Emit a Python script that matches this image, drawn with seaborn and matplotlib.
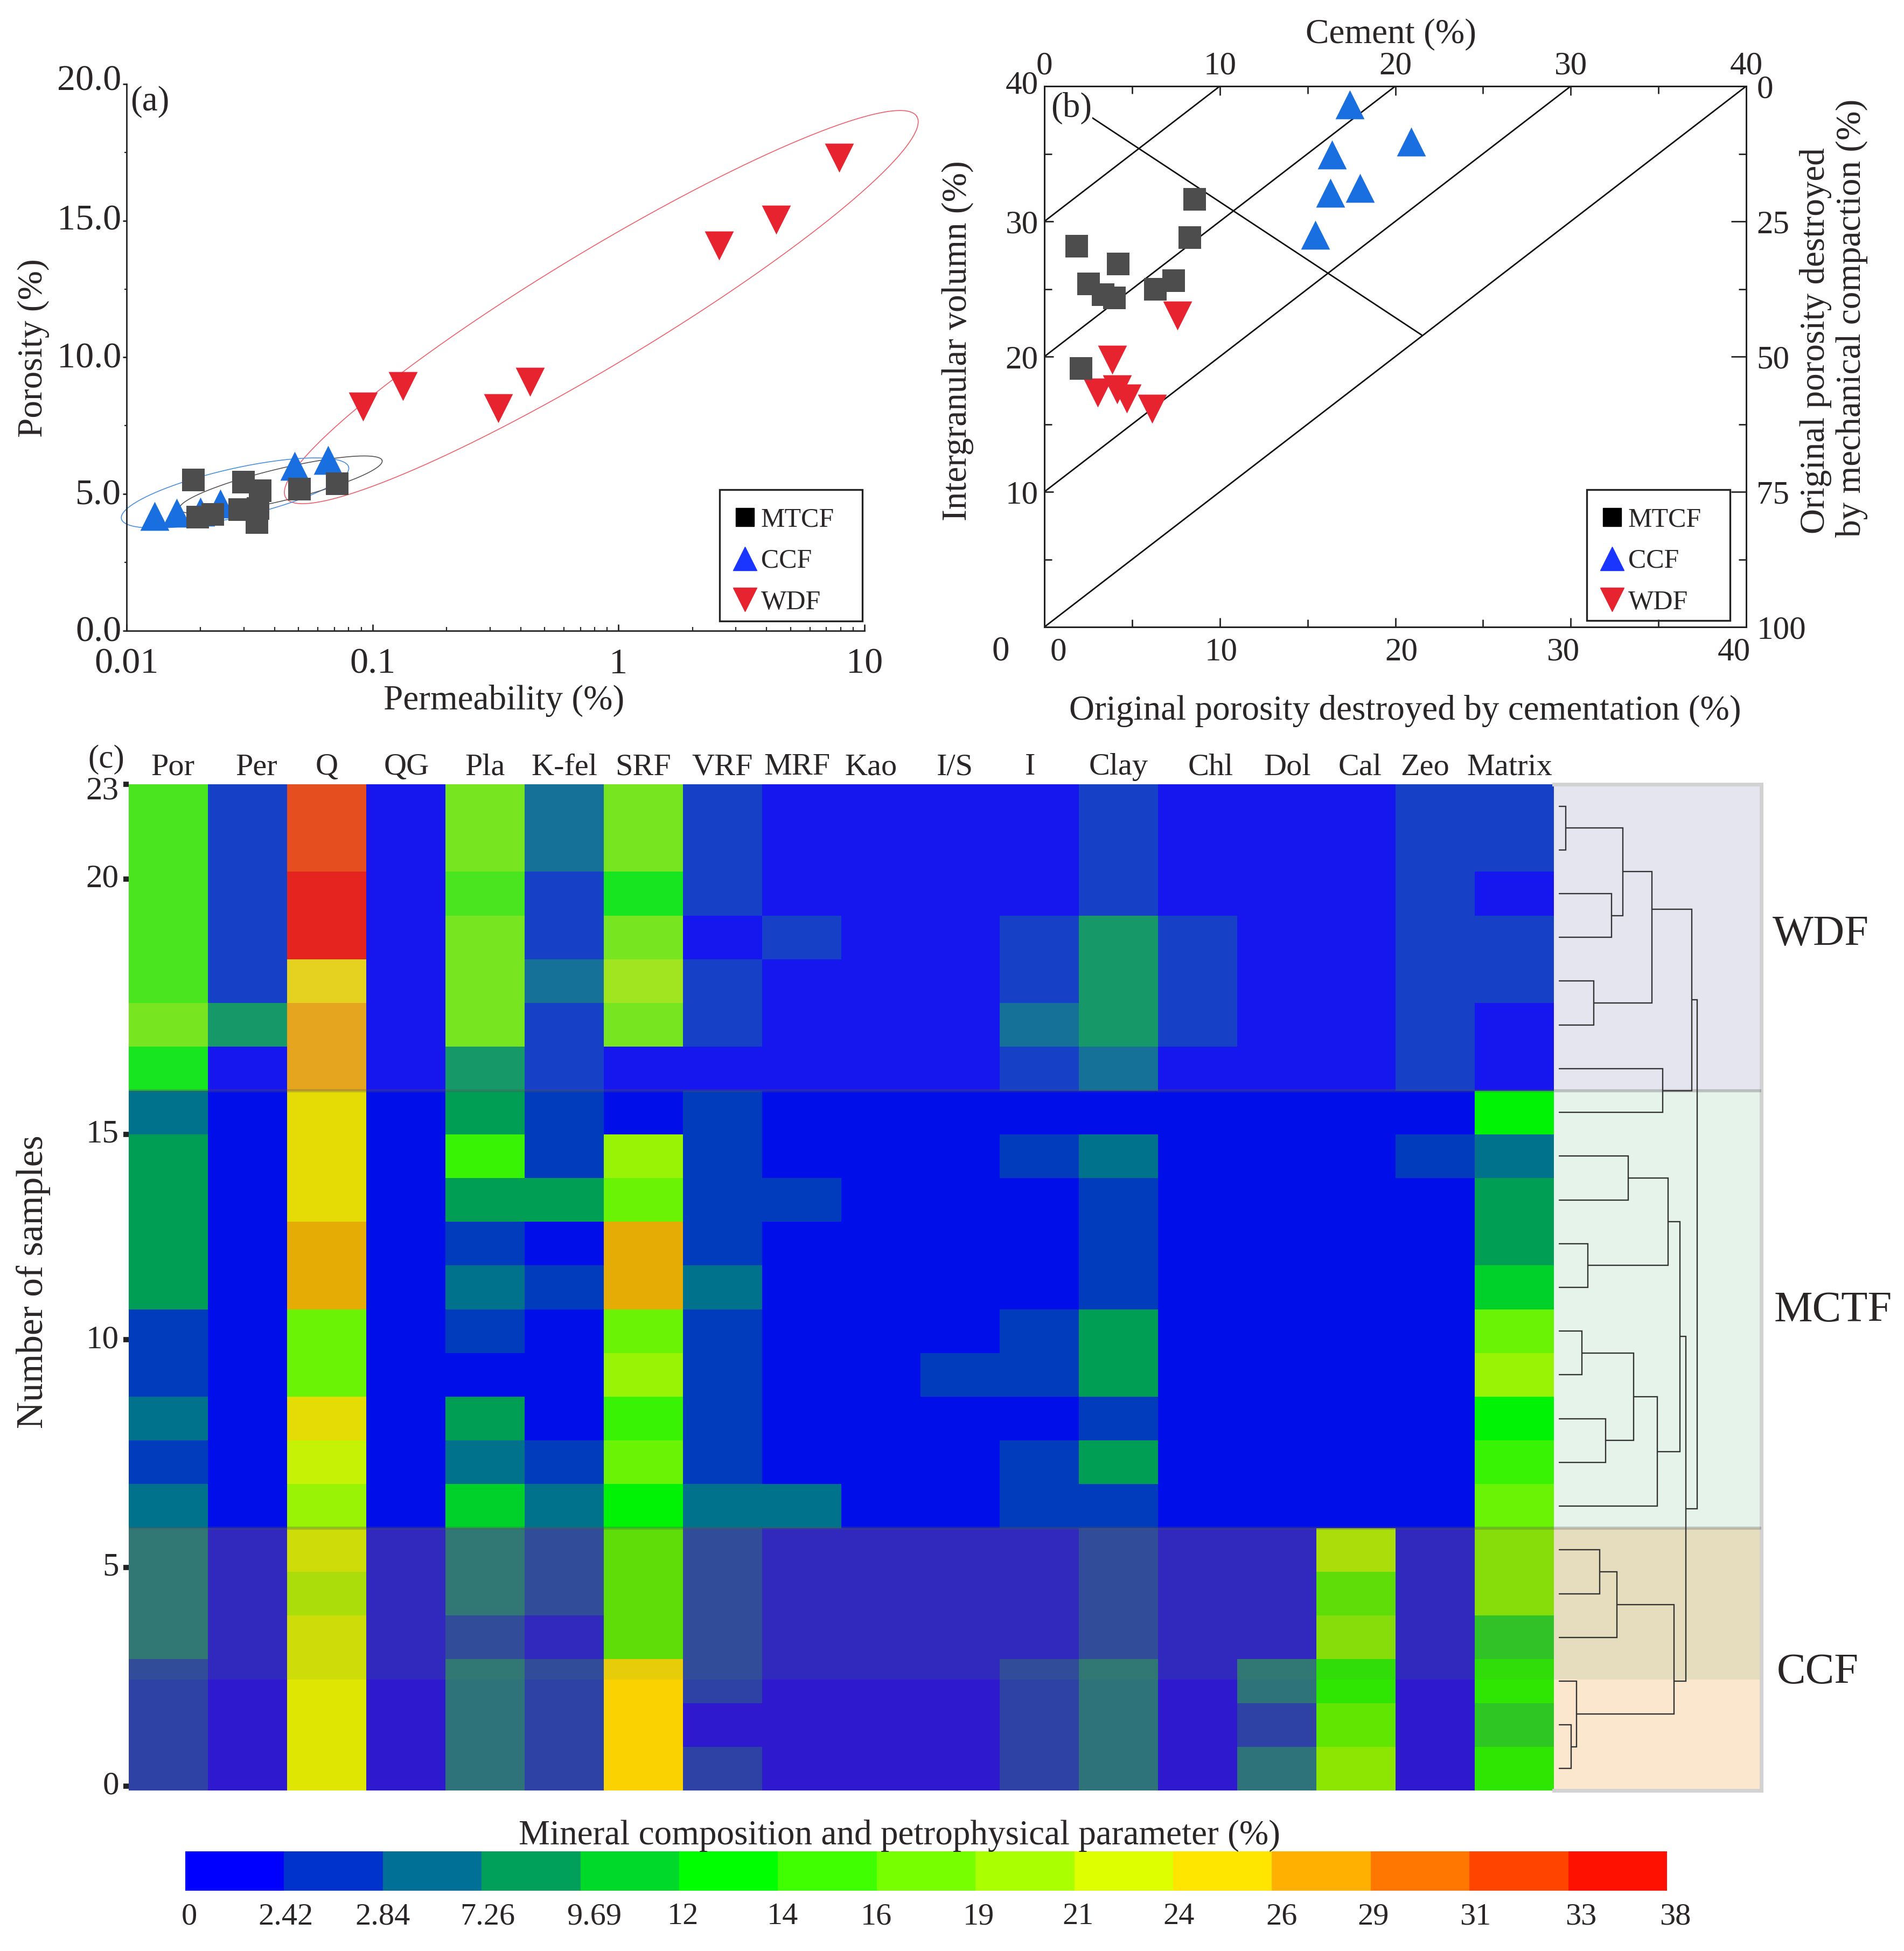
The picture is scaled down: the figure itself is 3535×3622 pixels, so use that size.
import matplotlib
matplotlib.use("Agg")
import matplotlib.pyplot as plt
import numpy as np
import pandas as pd
import seaborn as sns
from matplotlib.colors import BoundaryNorm, ListedColormap
from matplotlib.lines import Line2D
from matplotlib.patches import Rectangle
from matplotlib.ticker import FixedLocator, NullFormatter
from matplotlib.transforms import ScaledTranslation

W, H = 3535, 3622
DPI = 100
FS = 44
LABEL_FS = 47
INK = "#2a2626"

# panel (a), permeability vs porosity
mtcf_perm = [0.0187, 0.0298, 0.0349, 0.0505, 0.0718, 0.0195, 0.0224, 0.0289, 0.0343, 0.0339]
mtcf_por = [5.52, 5.44, 5.13, 5.18, 5.38, 4.15, 4.26, 4.43, 4.47, 3.97]
ccf_perm = [0.013, 0.016, 0.020, 0.0241, 0.0482, 0.0659]
ccf_por = [4.19, 4.32, 4.36, 4.65, 6.02, 6.24]
wdf_perm = [0.0916, 0.133, 0.325, 0.4375, 2.56, 4.37, 7.89]
wdf_por = [8.2, 8.94, 8.14, 9.11, 14.09, 15.04, 17.3]

# ellipses: centre (log10 perm, por), half major vector, half minor vector
ellipse_red = [(-0.07, 11.84), (1.283, 6.97), (0.118, -1.77)]
ellipse_blue = [(-1.559, 5.04), (0.462, 0.946), (0.022, -0.867)]
ellipse_black = [(-1.373, 5.34), (0.412, 0.887), (0.015, -0.571)]

# panel (b), cement vs intergranular volume
mtcf_cem = [8.55, 8.30, 1.83, 4.2, 2.52, 3.34, 3.99, 6.33, 7.37, 2.08]
mtcf_igv = [31.64, 28.81, 28.15, 26.84, 25.39, 24.59, 24.35, 24.97, 25.6, 19.14]
ccf_cem = [17.4, 20.9, 16.4, 16.3, 18.0, 15.45]
ccf_igv = [38.65, 35.89, 34.96, 32.12, 32.47, 29.02]
wdf_cem = [7.58, 3.88, 3.05, 4.13, 4.71, 6.15]
wdf_igv = [23.04, 19.76, 17.34, 17.58, 16.89, 16.13]
diagonal_offsets = [0, 10, 20, 30]
anti_cem = [2.45, 21.5]
anti_igv = [37.9, 21.6]

# panel (c), top row first
por = [15, 15, 15, 15, 15, 17.5, 13, 5, 8.5, 8.5, 8.5, 8.5, 2.6, 2.6, 5, 2.6, 5, 5, 5, 5, 2.6, 2.6, 2.6]
per = [2.6, 2.6, 2.6, 2.6, 2.6, 8.5, 1.2, 1.2, 1.2, 1.2, 1.2, 1.2, 1.2, 1.2, 1.2, 1.2, 1.2, 1.2, 1.2, 1.2, 1.2, 1.2, 1.2]
q = [32, 32, 35, 35, 25, 27.5, 27.5, 25, 25, 25, 27.5, 27.5, 17.5, 17.5, 25, 22.5, 20, 22.5, 20, 22.5, 22.5, 22.5, 22.5]
qg = [1.2, 1.2, 1.2, 1.2, 1.2, 1.2, 1.2, 1.2, 1.2, 1.2, 1.2, 1.2, 1.2, 1.2, 1.2, 1.2, 1.2, 1.2, 1.2, 1.2, 1.2, 1.2, 1.2]
pla = [17.5, 17.5, 15, 17.5, 17.5, 17.5, 8.5, 8.5, 15, 8.5, 2.6, 5, 2.6, 1.2, 8.5, 5, 11, 5, 5, 2.6, 5, 5, 5]
kfel = [5, 5, 2.6, 2.6, 5, 2.6, 2.6, 2.6, 2.6, 8.5, 1.2, 2.6, 1.2, 1.2, 1.2, 2.6, 5, 2.6, 2.6, 1.2, 2.6, 2.6, 2.6]
srf = [17.5, 17.5, 13, 17.5, 20, 17.5, 1.2, 1.2, 20, 17.5, 27.5, 27.5, 17.5, 20, 15, 17.5, 13, 15, 15, 15, 25, 25, 25]
vrf = [2.6, 2.6, 2.6, 1.2, 2.6, 2.6, 1.2, 2.6, 2.6, 2.6, 2.6, 5, 2.6, 2.6, 2.6, 2.6, 5, 2.6, 2.6, 2.6, 2.6, 1.2, 2.6]
mrf = [1.2, 1.2, 1.2, 2.6, 1.2, 1.2, 1.2, 1.2, 1.2, 2.6, 1.2, 1.2, 1.2, 1.2, 1.2, 1.2, 5, 1.2, 1.2, 1.2, 1.2, 1.2, 1.2]
kao = [1.2, 1.2, 1.2, 1.2, 1.2, 1.2, 1.2, 1.2, 1.2, 1.2, 1.2, 1.2, 1.2, 1.2, 1.2, 1.2, 1.2, 1.2, 1.2, 1.2, 1.2, 1.2, 1.2]
i_s = [1.2, 1.2, 1.2, 1.2, 1.2, 1.2, 1.2, 1.2, 1.2, 1.2, 1.2, 1.2, 1.2, 2.6, 1.2, 1.2, 1.2, 1.2, 1.2, 1.2, 1.2, 1.2, 1.2]
illite = [1.2, 1.2, 1.2, 2.6, 2.6, 5, 2.6, 1.2, 2.6, 1.2, 1.2, 1.2, 2.6, 2.6, 1.2, 2.6, 2.6, 1.2, 1.2, 1.2, 2.6, 2.6, 2.6]
clay = [2.6, 2.6, 2.6, 8.5, 8.5, 8.5, 5, 1.2, 5, 2.6, 2.6, 2.6, 8.5, 8.5, 2.6, 8.5, 2.6, 2.6, 2.6, 2.6, 5, 5, 5]
chl = [1.2, 1.2, 1.2, 2.6, 2.6, 2.6, 1.2, 1.2, 1.2, 1.2, 1.2, 1.2, 1.2, 1.2, 1.2, 1.2, 1.2, 1.2, 1.2, 1.2, 1.2, 1.2, 1.2]
dol = [1.2, 1.2, 1.2, 1.2, 1.2, 1.2, 1.2, 1.2, 1.2, 1.2, 1.2, 1.2, 1.2, 1.2, 1.2, 1.2, 1.2, 1.2, 1.2, 1.2, 5, 2.6, 5]
cal = [1.2, 1.2, 1.2, 1.2, 1.2, 1.2, 1.2, 1.2, 1.2, 1.2, 1.2, 1.2, 1.2, 1.2, 1.2, 1.2, 1.2, 20, 15, 17.5, 13, 15, 17.5]
zeo = [2.6, 2.6, 2.6, 2.6, 2.6, 2.6, 2.6, 1.2, 2.6, 1.2, 1.2, 1.2, 1.2, 1.2, 1.2, 1.2, 1.2, 1.2, 1.2, 1.2, 1.2, 1.2, 1.2]
matrix = [2.6, 2.6, 1.2, 2.6, 2.6, 1.2, 1.2, 13, 5, 8.5, 8.5, 11, 17.5, 20, 13, 15, 17.5, 17.5, 17.5, 11, 13, 11, 13]

columns = ["Por", "Per", "Q", "QG", "Pla", "K-fel", "SRF", "VRF", "MRF", "Kao", "I/S", "I", "Clay", "Chl", "Dol", "Cal", "Zeo", "Matrix"]
column_shift_px = [8, 17, 0, 1, 0, 0, 0, 0, -9, -18, -10, -17, 0, 24, 20, 8, -19, -9]
sample_ticks = [23, 20, 15, 10, 5, 0]
sample_tick_rows = [0.0, 2.17, 8.0, 12.7, 17.9, 22.9]

bounds = [0, 2.42, 2.84, 7.26, 9.69, 12, 14, 16, 19, 21, 24, 26, 29, 31, 33, 38]
bound_labels = ["0", "2.42", "2.84", "7.26", "9.69", "12", "14", "16", "19", "21", "24", "26", "29", "31", "33", "38"]
bound_shift_px = [7, 3, 0, 11, 26, 7, 9, -1, 6, 7, 11, 18, 5, 11, 24, 15]
bin_colors = ["#0000ff", "#0033cc", "#007096", "#00a05a", "#00d82a", "#00ff00", "#40ff00", "#77ff00",
              "#aaff00", "#ddff00", "#ffe600", "#ffb000", "#ff7700", "#ff4400", "#ff1100"]

# tinted zones over heatmap and dendrogram, in rows from the top
zone_edges = [0, 7, 17, 20.46, 23]
zone_colors = [(122, 122, 170), (0, 140, 50), (172, 141, 34), (235, 128, 10)]
zone_alphas = [0.19, 0.10, 0.29, 0.196]
zone_names = ["WDF", "MCTF", "CCF"]

# dendrogram merges: left, right, distance. ids below 23 are rows
merges = [
    (0, 1, 12), (2, 3, 97), (23, 24, 118), (4, 5, 64), (25, 26, 172), (6, 7, 192), (27, 28, 246),
    (8, 9, 128), (10, 11, 53), (30, 31, 202), (12, 13, 42), (14, 15, 86), (33, 34, 138), (35, 16, 182),
    (32, 36, 224), (17, 18, 75), (38, 19, 107), (21, 22, 22), (20, 40, 32), (39, 41, 213), (37, 42, 235),
    (29, 43, 256),
]
node_shift = {27: -0.64, 42: 0.5}

FACIES = {
    "WDF": dict(marker="v", color="#e6232e", s=1500),
    "CCF": dict(marker="^", color="#1a6fe0", s=1500),
    "MTCF": dict(marker="s", color="#4d4d4d", s=950),
}

sns.set_theme(style="ticks")
plt.rcParams["font.family"] = ["Liberation Serif", "DejaVu Serif"]
plt.rcParams["text.color"] = INK
plt.rcParams["axes.labelcolor"] = INK
plt.rcParams["xtick.color"] = INK
plt.rcParams["ytick.color"] = INK
plt.rcParams["axes.edgecolor"] = "#222222"
plt.rcParams["axes.linewidth"] = 2.0


def px_rect(left, top, right, bottom):
    return [left / W, 1 - bottom / H, (right - left) / W, (bottom - top) / H]


def put(x, y, text, size=LABEL_FS, **kwargs):
    kwargs.setdefault("ha", "center")
    kwargs.setdefault("va", "center")
    return fig.text(x / W, 1 - y / H, text, fontsize=size, **kwargs)


def shift_labels(labels, dx_px=None, dy_px=None):
    labels = list(labels)
    dx_px = dx_px or [0] * len(labels)
    dy_px = dy_px or [0] * len(labels)
    for lab, dx, dy in zip(labels, dx_px, dy_px):
        lab.set_transform(lab.get_transform() + ScaledTranslation(dx / DPI, -dy / DPI, fig.dpi_scale_trans))


def scatter_facies(ax, values):
    for name, (xs, ys) in values.items():
        st = FACIES[name]
        frame = pd.DataFrame({"x": xs, "y": ys})
        sns.scatterplot(data=frame, x="x", y="y", marker=st["marker"], color=st["color"], s=st["s"],
                        linewidth=0, ax=ax, legend=False, clip_on=False, zorder=3)
    ax.set_xlabel("")
    ax.set_ylabel("")


def facies_legend(ax, left, top, right, bottom):
    handles = [
        Line2D([], [], ls="", marker="s", color="#000000", markersize=25),
        Line2D([], [], ls="", marker="^", color="#1a35ff", markersize=31),
        Line2D([], [], ls="", marker="v", color="#e6232e", markersize=31),
    ]
    ax.add_patch(Rectangle((left / W, 1 - bottom / H), (right - left) / W, (bottom - top) / H,
                           transform=fig.transFigure, fill=False, edgecolor="#222222", lw=2.4,
                           clip_on=False, zorder=5))
    ax.legend(handles, ["MTCF", "CCF", "WDF"], loc="upper left",
              bbox_to_anchor=(left / W, 1 - (top + 16) / H), bbox_transform=fig.transFigure,
              fontsize=36, frameon=False, borderpad=0.34, labelspacing=0.6,
              handlelength=1.2, handletextpad=0.0, borderaxespad=0)


fig = plt.figure(figsize=(W / DPI, H / DPI), dpi=DPI, facecolor="white")

# (a)
ax_a = fig.add_axes(px_rect(235, 156, 1605, 1171))
scatter_facies(ax_a, {"WDF": (wdf_perm, wdf_por), "CCF": (ccf_perm, ccf_por), "MTCF": (mtcf_perm, mtcf_por)})
t = np.linspace(0, 2 * np.pi, 300)
for (centre, major, minor), col in zip([ellipse_red, ellipse_blue, ellipse_black], ["#f0606a", "#4a90e0", "#555555"]):
    logx = centre[0] + major[0] * np.cos(t) + minor[0] * np.sin(t)
    ys = centre[1] + major[1] * np.cos(t) + minor[1] * np.sin(t)
    ax_a.plot(10 ** logx, ys, color=col, lw=1.2, clip_on=False, zorder=2)
ax_a.set_xscale("log")
ax_a.set_xlim(0.01, 10)
ax_a.set_ylim(0, 20)
ax_a.set_xticks([0.01, 0.1, 1, 10], ["0.01", "0.1", "1", "10"])
ax_a.xaxis.set_minor_locator(FixedLocator([m * 10.0 ** e for e in (-2, -1, 0) for m in range(2, 10)]))
ax_a.xaxis.set_minor_formatter(NullFormatter())
ax_a.set_yticks([0, 5, 10, 15, 20], ["0.0", "5.0", "10.0", "15.0", "20.0"])
ax_a.set_yticks([2.5, 7.5, 12.5, 17.5], minor=True)
ax_a.tick_params(axis="x", which="major", direction="in", length=9, width=2, labelsize=49, pad=23)
ax_a.tick_params(axis="x", which="minor", direction="in", length=5, width=1.6)
ax_a.tick_params(axis="y", which="major", direction="out", length=5, width=2, labelsize=49, pad=2)
ax_a.tick_params(axis="y", which="minor", direction="out", length=3, width=1.6)
shift_labels(ax_a.get_yticklabels(), dy_px=[-4, -4, -4, -7, -12])
sns.despine(ax=ax_a)
facies_legend(ax_a, 1336, 909, 1601, 1153)
put(278, 189, "(a)")
put(62, 646, "Porosity (%)", rotation=90)
put(936, 1301, "Permeability (%)")

# (b)
ax_b = fig.add_axes(px_rect(1939, 160, 3242, 1164))
for c in diagonal_offsets:
    ax_b.plot([0, 40 - c], [c, 40], color="#111111", lw=2.0, zorder=1)
ax_b.plot(anti_cem, anti_igv, color="#111111", lw=2.0, zorder=1)
scatter_facies(ax_b, {"WDF": (wdf_cem, wdf_igv), "CCF": (ccf_cem, ccf_igv), "MTCF": (mtcf_cem, mtcf_igv)})
ax_b.set_xlim(0, 40)
ax_b.set_ylim(0, 40)
ax_b.set_xticks([0, 10, 20, 30, 40])
ax_b.set_xticks([5, 15, 25, 35], minor=True)
ax_b.set_yticks([10, 20, 30, 40])
ax_b.set_yticks([5, 15, 25, 35], minor=True)
ax_b.tick_params(which="major", direction="in", length=12, width=2, labelsize=FS)
ax_b.tick_params(which="minor", direction="in", length=10, width=2)
ax_b.tick_params(axis="x", pad=14)
ax_b.tick_params(axis="y", pad=8)
shift_labels(ax_b.get_xticklabels(), dx_px=[26, 2, 11, -14, -23])
shift_labels(ax_b.get_yticklabels(), dy_px=[0, 0, 0, -8])

ax_top = ax_b.twiny()
ax_top.set_xlim(0, 40)
ax_top.set_xticks([0, 10, 20, 30, 40])
ax_top.set_xticks([5, 15, 25, 35], minor=True)
ax_top.tick_params(which="major", direction="in", length=12, width=2, labelsize=FS, pad=7)
ax_top.tick_params(which="minor", direction="in", length=10, width=2)
ax_top.grid(False)

ax_right = ax_b.twinx()
ax_right.set_ylim(100, 0)
ax_right.set_yticks([0, 25, 50, 75, 100])
ax_right.set_yticks([12.5, 37.5, 62.5, 87.5], minor=True)
ax_right.tick_params(which="major", direction="in", length=20, width=2, labelsize=FS, pad=14)
ax_right.tick_params(which="minor", direction="in", length=10, width=2)
ax_right.grid(False)
facies_legend(ax_right, 2946, 909, 3212, 1152)
put(1989, 201, "(b)", bbox=dict(facecolor="white", edgecolor="none", pad=1))
put(2583, 64, "Cement (%)")
put(2609, 1320, "Original porosity destroyed by cementation (%)")
put(1778, 633, "Intergranular volumn (%)", rotation=90)
put(3371, 633, "Original porosity destroyed", rotation=90)
put(3438, 590, "by mechanical compaction (%)", rotation=90)
put(1858, 1210, "0")

# (c)
table = pd.DataFrame(dict(zip(columns, [por, per, q, qg, pla, kfel, srf, vrf, mrf, kao, i_s, illite, clay, chl, dol, cal, zeo, matrix])))
cmap = ListedColormap(bin_colors)
norm = BoundaryNorm(bounds, cmap.N)
ax_c = fig.add_axes(px_rect(239, 1456, 2885, 3324))
ax_cb = fig.add_axes(px_rect(344, 3437, 3095, 3510))
sns.heatmap(table, cmap=cmap, norm=norm, ax=ax_c, cbar_ax=ax_cb, square=False, linewidths=0,
            cbar_kws=dict(orientation="horizontal", ticks=bounds, spacing="uniform"))
ax_c.xaxis.tick_top()
ax_c.set_xticklabels(columns, rotation=0, fontsize=42)
ax_c.set_yticks(sample_tick_rows, sample_ticks, rotation=0, fontsize=FS)
ax_c.tick_params(axis="x", length=0, pad=4)
ax_c.tick_params(axis="y", length=7, width=7, pad=6, color="#222222")
shift_labels(ax_c.get_xticklabels(), dx_px=column_shift_px)
shift_labels(ax_c.get_yticklabels(), dy_px=[13, 0, 0, 0, 0, 0])

cbar = ax_c.collections[0].colorbar
cbar.set_ticks(bounds, labels=bound_labels)
cbar.ax.tick_params(length=0, labelsize=42, pad=16)
cbar.outline.set_visible(False)
shift_labels(cbar.ax.get_xticklabels(), dx_px=bound_shift_px)

ax_d = fig.add_axes(px_rect(2885, 1456, 3270, 3324))
ax_d.set_xlim(-10, 375)
ax_d.set_ylim(23, 0)
ax_d.set_xticks([])
ax_d.set_yticks([])
for top, bottom, col, alpha in zip(zone_edges[:-1], zone_edges[1:], zone_colors, zone_alphas):
    rgb = tuple(v / 255 for v in col)
    for ax in (ax_c, ax_d):
        ax.axhspan(top, bottom, color=rgb, alpha=alpha, lw=0, zorder=2)
for edge in (7, 17):
    for ax in (ax_c, ax_d):
        ax.axhline(edge, color="#555555", alpha=0.3, lw=4, zorder=3)

pos = {i: (0.0, i + 0.5) for i in range(23)}
for idx, (a, b, dist) in enumerate(merges):
    xa, ya = pos[a]
    xb, yb = pos[b]
    ax_d.plot([xa, dist, dist, xb], [ya, ya, yb, yb], color="#333333", lw=1.7, solid_joinstyle="miter", zorder=4)
    node = 23 + idx
    pos[node] = (dist, (ya + yb) / 2 + node_shift.get(node, 0))

ax_d.spines["left"].set_visible(False)
for side in ("top", "right", "bottom"):
    ax_d.spines[side].set_visible(True)
    ax_d.spines[side].set_color("#d2d2d2")
    ax_d.spines[side].set_linewidth(5)

put(197, 1410, "(c)", size=FS)
put(62, 2380, "Number of samples", size=50, rotation=90)
put(3380, 1735, zone_names[0], size=58)
put(3403, 2434, zone_names[1], size=58)
put(3375, 3105, zone_names[2], size=58)
put(1670, 3408, "Mineral composition and petrophysical parameter (%)", size=47)

fig.savefig("out.png", dpi=DPI, facecolor="white")
